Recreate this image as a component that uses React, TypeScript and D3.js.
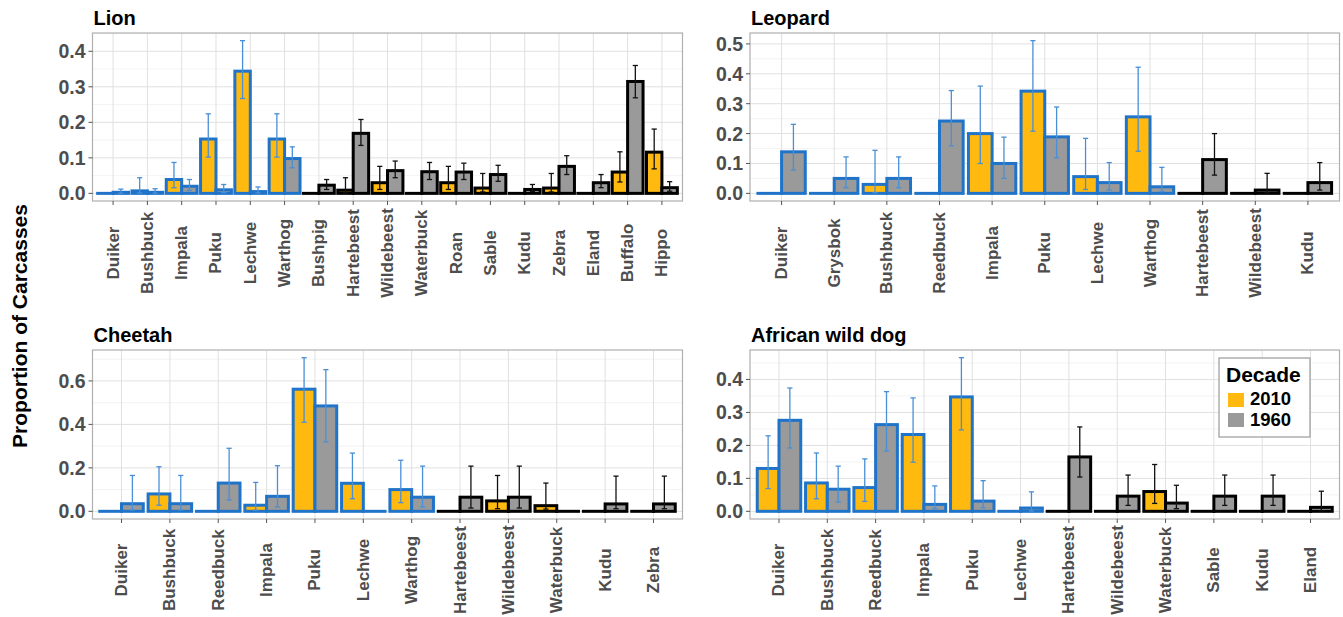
import React from "react";
import * as d3 from "d3";

// ---------- DATA ----------
const lionCats = ["Duiker","Bushbuck","Impala","Puku","Lechwe","Warthog","Bushpig","Hartebeest","Wildebeest","Waterbuck","Roan","Sable","Kudu","Zebra","Eland","Buffalo","Hippo"];
const lion2010 = [0,0.007,0.039,0.153,0.344,0.153,0,0.009,0.03,0,0.03,0.015,0,0.015,0,0.06,0.116];
const lion2010Lo = [null,0.001,0.016,0.102,0.267,0.102,null,0.001,0.011,null,0.011,0.004,null,0.004,null,0.032,0.069];
const lion2010Hi = [null,0.044,0.087,0.224,0.43,0.224,null,0.044,0.076,null,0.076,0.056,null,0.056,null,0.117,0.181];
const lion1960 = [0.003,0.003,0.02,0.01,0.005,0.098,0.023,0.169,0.064,0.061,0.06,0.053,0.011,0.076,0.03,0.315,0.016];
const lion1960Lo = [0.0005,0.0005,0.008,0.002,0.001,0.072,0.011,0.135,0.044,0.039,0.039,0.034,0.005,0.053,0.016,0.269,0.006];
const lion1960Hi = [0.012,0.013,0.039,0.025,0.018,0.131,0.039,0.208,0.091,0.087,0.085,0.079,0.025,0.106,0.053,0.36,0.033];
const lionBlueCount = 6;
const lionTicks = [0,0.1,0.2,0.3,0.4];

const leoCats = ["Duiker","Grysbok","Bushbuck","Reedbuck","Impala","Puku","Lechwe","Warthog","Hartebeest","Wildebeest","Kudu"];
const leo2010 = [0,0,0.03,0,0.2,0.342,0.056,0.256,0,0,0];
const leo2010Lo = [null,null,0.002,null,0.1,0.208,0.013,0.141,null,null,null];
const leo2010Hi = [null,null,0.144,null,0.359,0.511,0.184,0.422,null,null,null];
const leo1960 = [0.139,0.05,0.05,0.242,0.1,0.189,0.036,0.022,0.113,0.011,0.036];
const leo1960Lo = [0.078,0.019,0.019,0.159,0.05,0.119,0.011,0.006,0.061,0.002,0.011];
const leo1960Hi = [0.231,0.122,0.122,0.344,0.188,0.289,0.103,0.087,0.2,0.067,0.103];
const leoBlueCount = 8;
const leoTicks = [0,0.1,0.2,0.3,0.4,0.5];

const cheCats = ["Duiker","Bushbuck","Reedbuck","Impala","Puku","Lechwe","Warthog","Hartebeest","Wildebeest","Waterbuck","Kudu","Zebra"];
const che2010 = [0,0.08,0,0.028,0.562,0.129,0.1,0,0.048,0.026,0,0];
const che2010Lo = [null,0.028,null,0.005,0.41,0.058,0.04,null,0.012,0.01,null,null];
const che2010Hi = [null,0.205,null,0.133,0.707,0.268,0.235,null,0.165,0.13,null,null];
const che1960 = [0.035,0.035,0.13,0.069,0.485,0,0.065,0.065,0.065,0,0.034,0.034];
const che1960Lo = [0.006,0.006,0.052,0.02,0.32,null,0.02,0.015,0.015,null,0.012,0.012];
const che1960Hi = [0.165,0.165,0.29,0.21,0.652,null,0.208,0.208,0.208,null,0.162,0.162];
const cheBlueCount = 7;
const cheTicks = [0,0.2,0.4,0.6];

const dogCats = ["Duiker","Bushbuck","Reedbuck","Impala","Puku","Lechwe","Hartebeest","Wildebeest","Waterbuck","Sable","Kudu","Eland"];
const dog2010 = [0.13,0.086,0.072,0.233,0.347,0,0,0,0.06,0,0,0];
const dog2010Lo = [0.069,0.038,0.03,0.149,0.247,null,null,null,0.024,null,null,null];
const dog2010Hi = [0.229,0.177,0.159,0.344,0.466,null,null,null,0.142,null,null,null];
const dog1960 = [0.276,0.067,0.263,0.021,0.031,0.01,0.165,0.046,0.025,0.046,0.046,0.012];
const dog1960Lo = [0.192,0.028,0.183,0.008,0.011,0.001,0.104,0.018,0.008,0.018,0.018,0.002];
const dog1960Hi = [0.374,0.137,0.363,0.077,0.093,0.059,0.256,0.11,0.079,0.11,0.11,0.061];
const dogBlueCount = 6;
const dogTicks = [0,0.1,0.2,0.3,0.4];

const decades = ["2010","1960"];

// ---------- STYLE ----------
const W = 1343, H = 617;
const YELLOW = "#FFB90F";
const GRAY = "#9a9a9a";
const BLUE = "#1f74c9";
const BLUE_ERR = "#4a8fd6";
const BLACK = "#000000";
const FONT = "'Liberation Sans', Arial, sans-serif";

type PanelProps = {
  title: string; cats: string[];
  v10: number[]; lo10: (number|null)[]; hi10: (number|null)[];
  v60: number[]; lo60: (number|null)[]; hi60: (number|null)[];
  blue: number; ticks: number[];
  x0: number; x1: number; y0: number; y1: number; labelY: number;
};

function Panel(p: PanelProps) {
  const maxV = d3.max([...p.hi10, ...p.hi60, ...p.v10, ...p.v60].map(v => (v == null ? 0 : v))) as number;
  const y = d3.scaleLinear().domain([-0.05 * maxV, 1.05 * maxV]).range([p.y1, p.y0]);
  const x = d3.scalePoint<string>().domain(p.cats).range([p.x0, p.x1]).padding(0.6);
  const step = x.step();
  const dodge = d3.scaleBand<string>().domain(decades).range([-0.45 * step, 0.45 * step]);
  const bw = dodge.bandwidth();
  const step2 = p.ticks[1] - p.ticks[0];
  const minor: number[] = [];
  for (let t = p.ticks[0] - step2 / 2; t <= y.domain()[1]; t += step2) {
    if (t >= y.domain()[0]) minor.push(t);
  }
  const series = [
    { key: "2010", v: p.v10, lo: p.lo10, hi: p.hi10, fill: YELLOW },
    { key: "1960", v: p.v60, lo: p.lo60, hi: p.hi60, fill: GRAY },
  ];
  return (
    <g>
      <text x={p.x0 + 1} y={p.y0 - 8} fontFamily={FONT} fontWeight="bold" fontSize={20} fill="#000">{p.title}</text>
      <rect x={p.x0} y={p.y0} width={p.x1 - p.x0} height={p.y1 - p.y0} fill="#fff" />
      {minor.map((t, i) => (
        <line key={"mi" + i} x1={p.x0} x2={p.x1} y1={y(t)} y2={y(t)} stroke="#f0f0f0" strokeWidth={0.8} />
      ))}
      {p.ticks.map((t, i) => (
        <line key={"ma" + i} x1={p.x0} x2={p.x1} y1={y(t)} y2={y(t)} stroke="#e0e0e0" strokeWidth={1} />
      ))}
      {p.cats.map((c) => (
        <line key={"vg" + c} x1={x(c)} x2={x(c)} y1={p.y0} y2={p.y1} stroke="#e0e0e0" strokeWidth={1} />
      ))}
      {series.map((s) =>
        p.cats.map((c, i) => {
          const cx = (x(c) as number) + (dodge(s.key) as number);
          const top = y(s.v[i]);
          const base = y(0);
          const col = i < p.blue ? BLUE : BLACK;
          if (base - top < 0.5) {
            return (
              <line key={s.key + c} x1={cx - 1.5} x2={cx + bw + 1.5} y1={base} y2={base} stroke={col} strokeWidth={3} />
            );
          }
          return (
            <rect key={s.key + c} x={cx} y={top} width={bw} height={base - top}
              fill={s.fill} stroke={col} strokeWidth={3} strokeLinejoin="miter" />
          );
        })
      )}
      {series.map((s) =>
        p.cats.map((c, i) => {
          const lo = s.lo[i], hi = s.hi[i];
          if (lo == null || hi == null) return null;
          const cx = (x(c) as number) + (dodge(s.key) as number) + bw / 2;
          const col = i < p.blue ? BLUE_ERR : "#111";
          const cw = 2.6;
          return (
            <g key={"e" + s.key + c} stroke={col} strokeWidth={1.3}>
              <line x1={cx} x2={cx} y1={y(lo)} y2={y(hi)} />
              <line x1={cx - cw} x2={cx + cw} y1={y(lo)} y2={y(lo)} />
              <line x1={cx - cw} x2={cx + cw} y1={y(hi)} y2={y(hi)} />
            </g>
          );
        })
      )}
      <rect x={p.x0} y={p.y0} width={p.x1 - p.x0} height={p.y1 - p.y0} fill="none" stroke="#b0b0b0" strokeWidth={1.2} />
      {p.ticks.map((t, i) => (
        <g key={"yt" + i}>
          <line x1={p.x0 - 4} x2={p.x0} y1={y(t)} y2={y(t)} stroke="#555" strokeWidth={1} />
          <text x={p.x0 - 7} y={y(t)} dy="0.36em" textAnchor="end" fontFamily={FONT} fontWeight="bold" fontSize={19.5} fill="#4d4d4d">{t.toFixed(1)}</text>
        </g>
      ))}
      {p.cats.map((c) => (
        <g key={"xt" + c}>
          <line x1={x(c)} x2={x(c)} y1={p.y1} y2={p.y1 + 4} stroke="#555" strokeWidth={1} />
          <text transform={`translate(${x(c)},${p.labelY}) rotate(-90)`} textAnchor="middle" dominantBaseline="central"
            fontFamily={FONT} fontWeight="bold" fontSize={17} fill="#4d4d4d">{c}</text>
        </g>
      ))}
    </g>
  );
}

export default function App() {
  const L = [92.5, 682.5], R = [750, 1339.5];
  const T = [33, 201], B = [350, 519];
  return (
    <svg width={W} height={H} style={{ position: "absolute", left: 0, top: 0, background: "#fff" }}>
      <rect width={W} height={H} fill="#fff" />
      <Panel title="Lion" cats={lionCats} v10={lion2010} lo10={lion2010Lo} hi10={lion2010Hi}
        v60={lion1960} lo60={lion1960Lo} hi60={lion1960Hi} blue={lionBlueCount} ticks={lionTicks}
        x0={L[0]} x1={L[1]} y0={T[0]} y1={T[1]} labelY={253} />
      <Panel title="Leopard" cats={leoCats} v10={leo2010} lo10={leo2010Lo} hi10={leo2010Hi}
        v60={leo1960} lo60={leo1960Lo} hi60={leo1960Hi} blue={leoBlueCount} ticks={leoTicks}
        x0={R[0]} x1={R[1]} y0={T[0]} y1={T[1]} labelY={253} />
      <Panel title="Cheetah" cats={cheCats} v10={che2010} lo10={che2010Lo} hi10={che2010Hi}
        v60={che1960} lo60={che1960Lo} hi60={che1960Hi} blue={cheBlueCount} ticks={cheTicks}
        x0={L[0]} x1={L[1]} y0={B[0]} y1={B[1]} labelY={570} />
      <Panel title="African wild dog" cats={dogCats} v10={dog2010} lo10={dog2010Lo} hi10={dog2010Hi}
        v60={dog1960} lo60={dog1960Lo} hi60={dog1960Hi} blue={dogBlueCount} ticks={dogTicks}
        x0={R[0]} x1={R[1]} y0={B[0]} y1={B[1]} labelY={570} />
      <text transform="translate(27,326) rotate(-90)" textAnchor="middle" fontFamily={FONT} fontWeight="bold" fontSize={21} fill="#000">Proportion of Carcasses</text>
      <g>
        <rect x={1219} y={358} width={91} height={79} fill="#fff" stroke="#9a9a9a" strokeWidth={1.2} />
        <text x={1226} y={382} fontFamily={FONT} fontWeight="bold" fontSize={21} fill="#000">Decade</text>
        <rect x={1228} y={393} width={16} height={14} fill={YELLOW} />
        <text x={1250} y={405} fontFamily={FONT} fontWeight="bold" fontSize={18.5} fill="#000">{decades[0]}</text>
        <rect x={1228} y={413} width={16} height={14} fill={GRAY} />
        <text x={1250} y={426} fontFamily={FONT} fontWeight="bold" fontSize={18.5} fill="#000">{decades[1]}</text>
      </g>
    </svg>
  );
}
